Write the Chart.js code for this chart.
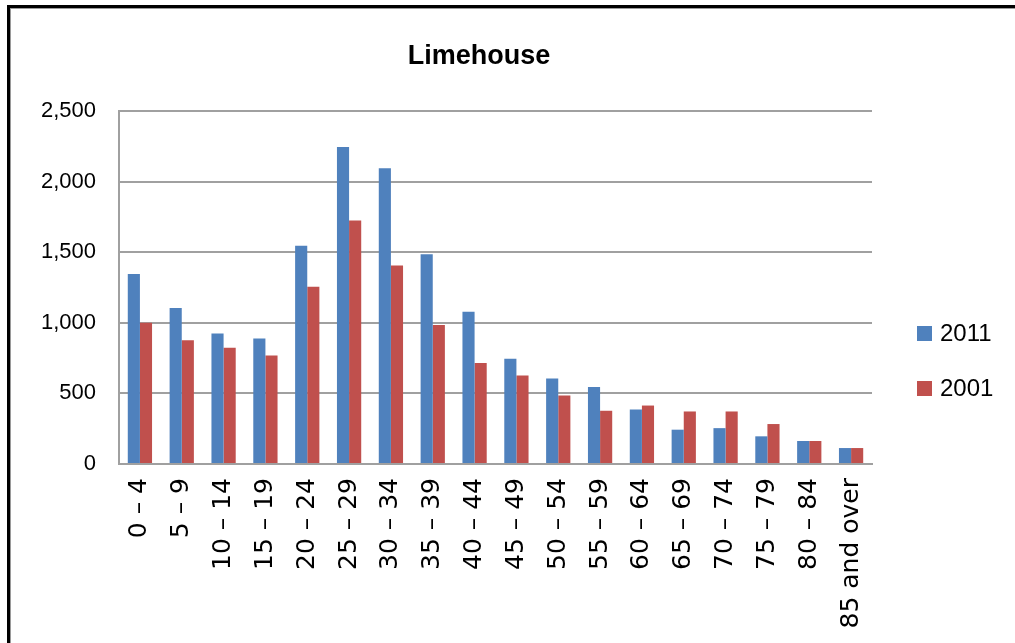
<!DOCTYPE html>
<html><head><meta charset="utf-8">
<script src="https://cdn.jsdelivr.net/npm/chart.js@4/dist/chart.umd.min.js"></script>
<style>
html,body{margin:0;padding:0;background:#fff;overflow:hidden}
#wrap{position:absolute;left:0;top:0;width:1015px;height:643px}
</style></head>
<body><div id="wrap"><canvas id="c" width="1015" height="643"></canvas></div>
<script>
const titleText = 'Limehouse';
const categories = ['0 – 4','5 – 9','10 – 14','15 – 19','20 – 24','25 – 29','30 – 34','35 – 39','40 – 44','45 – 49','50 – 54','55 – 59','60 – 64','65 – 69','70 – 74','75 – 79','80 – 84','85 and over'];
const seriesNames = ['2011','2001'];
const values2011 = [1345,1105,925,888,1545,2245,2095,1485,1078,746,605,546,386,243,254,196,163,113];
const values2001 = [1000,876,824,768,1255,1725,1405,984,716,626,485,377,414,372,372,283,163,113];
const yTicks = [0,500,1000,1500,2000,2500];
const colors = ['#4F81BD','#C0504D'];

const fontY = '"Liberation Sans",Arial,sans-serif';
const fontX = '"DejaVu Sans",sans-serif';

const decor = {
  id:'decor',
  beforeDraw(chart){
    const ctx = chart.ctx;
    ctx.save();
    ctx.fillStyle='#fff';
    ctx.fillRect(0,0,chart.width,chart.height);
    ctx.fillStyle='#000';
    ctx.fillRect(7,5,chart.width-7,3);
    ctx.fillRect(7,5,3,chart.height-5);
    ctx.fillStyle='#9a9a9a';
    ctx.fillRect(10,8,chart.width-10,1);
    ctx.fillRect(10,8,1,chart.height-8);
    ctx.restore();
  },
  afterDraw(chart){
    const ctx = chart.ctx;
    ctx.save();
    ctx.fillStyle='#000';
    ctx.font = 'bold 27px ' + fontY;
    ctx.textAlign='center';
    ctx.textBaseline='middle';
    ctx.fillText(titleText, 479, 57);
    ctx.font = '24px ' + fontY;
    ctx.textAlign='left';
    const ys=[334,389];
    chart.data.datasets.forEach((ds,i)=>{
      ctx.fillStyle = ds.backgroundColor;
      ctx.fillRect(917, ys[i]-8, 15, 15);
      ctx.fillStyle='#000';
      ctx.fillText(ds.label, 940, ys[i]);
    });
    ctx.restore();
  }
};

new Chart(document.getElementById('c'), {
  type:'bar',
  data:{
    labels:categories,
    datasets:[
      {label:seriesNames[0], data:values2011, backgroundColor:colors[0], borderWidth:0},
      {label:seriesNames[1], data:values2001, backgroundColor:colors[1], borderWidth:0}
    ]
  },
  options:{
    responsive:false,
    animation:false,
    devicePixelRatio:1,
    layout:{padding:{top:111,right:143,bottom:0,left:0}},
    plugins:{legend:{display:false},title:{display:false},tooltip:{enabled:false}},
    datasets:{bar:{categoryPercentage:0.58,barPercentage:1.0}},
    scales:{
      x:{
        grid:{display:false,drawTicks:false},
        border:{display:true,color:'#a0a0a0',width:2},
        ticks:{color:'#000',font:{family:fontX,size:25},minRotation:90,maxRotation:90,padding:14,autoSkip:false},
        afterFit(s){ s.height = 179; }
      },
      y:{
        min:0,max:2500,
        afterBuildTicks(s){ s.ticks = yTicks.map(v=>({value:v})); },
        grid:{color:'#a0a0a0',lineWidth:2,drawTicks:false},
        border:{display:true,color:'#a0a0a0',width:2},
        ticks:{color:'#000',font:{family:fontY,size:22},padding:23,
          callback:v=>v.toLocaleString('en-US')},
        afterFit(s){ s.width = 119; }
      }
    }
  },
  plugins:[decor]
});
</script>
</body></html>
